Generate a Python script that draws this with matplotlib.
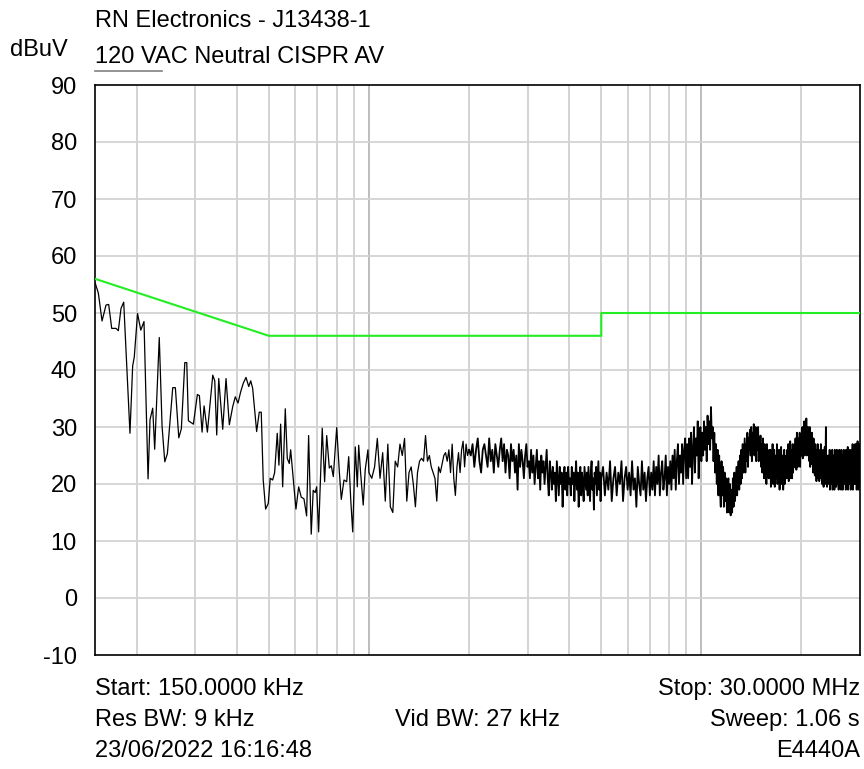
import numpy as np
import matplotlib
matplotlib.use("Agg")
import matplotlib.pyplot as plt

plt.rcParams['font.family'] = ['Liberation Sans', 'DejaVu Sans']

# ---------------- data ----------------
title_line1 = "RN Electronics - J13438-1"
title_line2 = "120 VAC Neutral CISPR AV"
y_unit = "dBuV"
footer_left = ["Start: 150.0000 kHz", "Res BW: 9 kHz", "23/06/2022 16:16:48"]
footer_mid = ["", "Vid BW: 27 kHz", ""]
footer_right = ["Stop: 30.0000 MHz", "Sweep: 1.06 s", "E4440A"]

x_min_khz, x_max_khz = 150, 30000
y_ticks = [-10, 0, 10, 20, 30, 40, 50, 60, 70, 80, 90]
minor_grid_khz = [200, 300, 400, 500, 600, 700, 800, 900,
                  2000, 3000, 4000, 5000, 6000, 7000, 8000, 9000, 20000]
major_grid_khz = [1000, 10000]

# CISPR average limit line
limit_freq_khz = [150, 500, 5000, 5000, 30000]
limit_dbuv = [56, 46, 46, 50, 50]

# Trace, segment A: sweep vertices 150 kHz - 1 MHz
seg_a_freq_khz = [150.3, 153.5, 157.5, 161.9, 164.9, 168.4, 173.5, 176.3, 179.6, 183.0,
                  191.1, 194.7, 196.9, 201.4, 206.0, 210.6, 216.6, 219.6, 223.7, 226.8,
                  234.1, 238.7, 243.2, 247.6, 257.0, 261.7, 268.0, 272.8, 279.4, 283.2,
                  286.4, 296.5, 304.8, 309.1, 314.9, 319.3, 326.7, 339.1, 343.8, 348.5,
                  353.4, 363.3, 371.7, 380.3, 389.4, 396.4, 403.9, 411.5, 419.0, 426.9,
                  435.0, 441.0, 447.0, 459.5, 467.9, 474.4, 480.9, 489.0, 498.0, 504.9,
                  513.4, 520.5, 530.0, 536.2, 542.6, 550.3, 560.3, 568.1, 576.0, 581.6,
                  603.3, 614.7, 625.8, 637.7, 649.5, 658.6, 670.6, 679.9, 689.4, 696.1,
                  705.8, 723.7, 735.8, 746.5, 760.1, 770.6, 781.4, 800.0, 814.6, 825.9,
                  841.4, 857.4, 869.4, 881.6, 893.8, 910.0, 922.7, 931.7, 944.2, 961.3,
                  974.7, 993.1]
seg_a_dbuv = [55.2, 53.5, 48.6, 51.4, 51.5, 47.3, 47.3, 46.9, 50.8, 51.9,
              28.9, 40.7, 42.3, 49.9, 47.0, 48.5, 20.9, 31.3, 33.3, 26.1,
              45.7, 30.1, 23.9, 25.3, 36.9, 36.9, 28.1, 29.7, 41.3, 41.3,
              31.1, 30.5, 35.7, 35.5, 29.1, 33.7, 29.1, 39.1, 38.1, 28.6,
              38.5, 29.6, 38.5, 30.4, 33.6, 35.3, 34.2, 36.2, 37.7, 38.7,
              37.1, 38.1, 36.8, 29.2, 32.6, 32.6, 20.7, 15.6, 16.6, 21.0,
              20.7, 22.0, 28.9, 23.3, 30.5, 19.5, 33.2, 24.5, 23.6, 26.0,
              15.6, 19.5, 17.7, 17.4, 14.4, 28.5, 11.2, 18.9, 18.5, 19.5,
              11.6, 29.8, 20.4, 28.5, 22.8, 23.2, 21.3, 29.9, 22.2, 17.3,
              20.7, 20.4, 24.8, 17.3, 11.6, 26.5, 19.5, 26.8, 21.9, 16.3,
              22.5, 26.0]

# Trace, segment B: 1000 - 2000 kHz sweep points (20 kHz apart)
seg_b_start_khz, seg_b_stop_khz = 1000, 2000
seg_b_dbuv = [22, 21, 23, 28, 21, 25.5, 17, 27, 16, 15, 24, 23, 27, 25, 28, 17, 22, 23, 20, 16,
              22, 24, 24.5, 24, 28.5, 24, 25, 23, 22, 21, 17, 23, 22, 23.5, 25, 25.5, 24, 26, 22, 27,
              21, 18, 23, 25.5, 22, 26, 27.5, 23, 27, 25, 26]

# Trace, segment C: 2025 - 5000 kHz sweep points (25 kHz apart)
seg_c_start_khz, seg_c_stop_khz = 2025, 5000
seg_c_dbuv = [25, 27, 23, 26, 28, 24, 22, 26, 27, 25, 23, 28, 24, 26, 22, 27, 25, 23, 26, 28,
              24, 27, 22, 26, 25, 21, 27, 24, 26, 22, 25, 19, 27, 23, 26, 24, 21, 25, 27, 23,
              24, 21, 26, 22, 25, 20, 23, 26, 21, 24, 19, 25, 22, 24, 20, 23, 26, 21, 18, 24,
              22, 19, 23, 20, 22, 17, 24, 21, 18, 23, 20, 22, 16, 21, 23, 19, 22, 18, 23, 20,
              21, 18, 23, 20, 22, 17, 21, 24, 19, 22, 16, 21, 23, 18, 22, 20, 17, 23, 21, 19,
              22, 18, 23, 20, 17, 22, 24, 19, 21, 15.5, 22, 20, 23, 18, 21, 24, 19, 22, 17, 21]

# Trace, segment D: 5062.5 - 30000 kHz sweep points (62.5 kHz apart)
seg_d_start_khz, seg_d_stop_khz = 5062.5, 30000
seg_d_dbuv = [
    23, 18, 22, 19, 24, 17, 21, 23, 18, 22, 20, 24, 17, 21, 23, 19,      # 5-6 MHz
    22, 18, 24, 19, 21, 16, 23, 20, 18, 24, 19, 22, 17, 21, 23, 18,      # 6-7
    22, 19, 24, 18, 23, 20, 25, 18, 22, 24, 19, 21, 25, 18, 23, 20,      # 7-8
    24, 19, 25, 21, 26, 19, 24, 27, 20, 25, 22, 27, 20, 26, 28, 21,      # 8-9
    27, 21, 28, 23, 29, 20, 26, 30, 22, 28, 25, 31, 21, 29, 30, 24,      # 9-10
    29, 25, 31, 26, 30, 24, 32, 27, 31, 26, 33.5, 28, 30, 24, 29, 22,    # 10-11
    27, 20, 26, 18, 25, 19, 16, 24, 18, 23, 16, 22, 17, 21, 15, 20,      # 11-12
    21, 15, 20, 14.5, 19, 15, 21, 16, 22, 17, 20, 23, 18, 22, 24, 19,    # 12-13
    25, 20, 26, 21, 27, 22, 25, 28, 22, 27, 24, 29, 23, 28, 26, 29.5,    # 13-14
    25, 30, 24, 29, 26, 30.5, 25, 28, 30, 24, 29, 26, 30, 24, 28, 25,    # 14-15
    28.5, 23, 27, 22, 28, 24, 21, 27, 22, 26, 20, 27, 23, 25, 21, 26,    # 15-16
    21, 26, 19.5, 25, 22, 27, 20, 24, 26, 19.5, 23, 25, 21, 27, 20, 24,  # 16-17
    22, 26, 19, 24, 21, 26.5, 20, 23, 25, 19, 22, 26, 20, 24, 21, 25,    # 17-18
    21, 26, 23, 27, 20.5, 25, 22, 27.5, 21, 26, 24, 21, 27, 22, 26, 23,  # 18-19
    27, 23, 28, 24, 22.5, 29, 25, 23, 28, 26, 24, 29, 23, 27, 25, 28,    # 19-20
    25, 30, 24.5, 29, 26, 31, 25, 28, 30, 26, 31.5, 25, 29, 27, 30, 25,  # 20-21
    29, 24, 30, 23, 28, 25, 23.5, 29, 24, 27, 22, 28, 23, 26, 21.5, 27,  # 21-22
    22, 26, 20.5, 25, 23, 27, 21, 24, 26, 20.5, 23, 25, 21, 27, 22, 24,  # 22-23
    20, 25, 22, 26, 19.5, 24, 21, 26.5, 20, 23, 30, 21, 25, 19.5, 24, 22,  # 23-24
    25, 20, 24, 22, 26, 19, 23, 25, 20, 24, 21, 26, 19, 23, 25, 21,      # 24-25
    24, 19, 26, 21, 23, 25, 19.5, 22, 26, 20, 24, 22, 25, 19, 23, 26,    # 25-26
    20, 25, 22, 24, 19, 26, 21, 23, 25, 19, 24, 22, 26, 20, 23, 25,      # 26-27
    21, 24, 19, 26, 22, 25, 20, 23, 26.5, 19, 24, 21, 25, 20, 26, 22,    # 27-28
    24, 19, 25, 22, 26, 20, 23, 27, 19, 24, 21, 26, 20, 25, 22, 27,      # 28-29
    20, 26, 22, 27, 19, 25, 21, 27.5, 23, 26, 19, 24, 22, 27, 20, 26,    # 29-30
]

# ---------------- assemble trace ----------------
f_a = np.asarray(seg_a_freq_khz, float)
f_b = np.linspace(seg_b_start_khz, seg_b_stop_khz, len(seg_b_dbuv))
f_c = np.linspace(seg_c_start_khz, seg_c_stop_khz, len(seg_c_dbuv))
f_d = np.linspace(seg_d_start_khz, seg_d_stop_khz, len(seg_d_dbuv))
sparse_f = np.concatenate([f_a, f_b])
sparse_v = np.concatenate([seg_a_dbuv, seg_b_dbuv]).astype(float)
dense_f = np.concatenate([f_b[-1:], f_c, f_d])
dense_v = np.concatenate([seg_b_dbuv[-1:], seg_c_dbuv, seg_d_dbuv]).astype(float)

# ---------------- figure ----------------
W, H, DPI = 864, 769, 100
fig = plt.figure(figsize=(W / DPI, H / DPI), dpi=DPI, facecolor='white')
ax_l, ax_r, ax_t, ax_b = 95, 860, 85, 655
ax = fig.add_axes([ax_l / W, 1 - ax_b / H, (ax_r - ax_l) / W, (ax_b - ax_t) / H])
ax.set_xscale('log')
ax.set_xlim(x_min_khz, x_max_khz)
ax.set_ylim(y_ticks[0], y_ticks[-1])

for f in minor_grid_khz:
    ax.axvline(f, color='#d0d0d0', lw=1.3, zorder=1)
for f in major_grid_khz:
    ax.axvline(f, color='#b8b8b8', lw=1.3, zorder=1)
for yv in y_ticks[1:-1]:
    ax.axhline(yv, color='#d3d3d3', lw=1.3, zorder=1)

ax.plot(sparse_f, sparse_v, color='black', lw=0.9, zorder=3)
ax.plot(dense_f, dense_v, color='black', lw=1.3, zorder=3)
ax.plot(limit_freq_khz, limit_dbuv, color='#22ee22', lw=1.5, zorder=4)

ax.set_yticks(y_ticks)
ax.set_yticklabels([str(v) for v in y_ticks], fontsize=17)
ax.tick_params(axis='y', length=0, pad=13)
ax.set_xticks([])
ax.xaxis.set_minor_locator(matplotlib.ticker.NullLocator())
for s in ax.spines.values():
    s.set_color('black')
    s.set_linewidth(1.2)

fs = 17
def fx(px):
    return px / W
def fy(py):
    return 1 - py / H

fig.text(fx(95), fy(27), title_line1, fontsize=fs, ha='left', va='baseline')
fig.text(fx(95), fy(63), title_line2, fontsize=fs, ha='left', va='baseline')
fig.text(fx(10), fy(56), y_unit, fontsize=fs, ha='left', va='baseline')
fig.add_artist(plt.Line2D([fx(95), fx(162)], [fy(71), fy(71)], color='#808080', lw=1.2))

base_lines = [695, 726, 757]
for i, yb in enumerate(base_lines):
    fig.text(fx(95), fy(yb), footer_left[i], fontsize=fs, ha='left', va='baseline')
    if footer_mid[i]:
        fig.text(fx((ax_l + ax_r) / 2), fy(yb), footer_mid[i], fontsize=fs, ha='center', va='baseline')
    fig.text(fx(860), fy(yb), footer_right[i], fontsize=fs, ha='right', va='baseline')

fig.savefig('out.png', dpi=DPI, facecolor='white')
